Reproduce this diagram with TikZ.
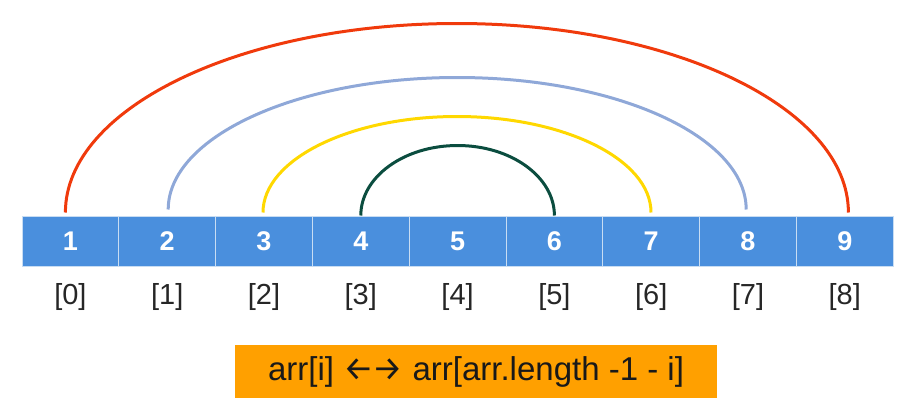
\documentclass[tikz,border=0pt]{standalone}
\usepackage{fontspec}
\setmainfont{Liberation Sans}
\newfontfamily\arrowfont{Fira Sans}
\definecolor{cellblue}{HTML}{4A8FDD}
\definecolor{celledge}{HTML}{C8DDF3}
\definecolor{arcred}{HTML}{F03A0C}
\definecolor{arcblue}{HTML}{8FA8D8}
\definecolor{arcyellow}{HTML}{FFD800}
\definecolor{arcgreen}{HTML}{0B4D3F}
\definecolor{boxorange}{HTML}{FFA000}
\tikzset{
  cell/.style={draw=celledge, line width=1pt, fill=cellblue, minimum width=96.8pt, minimum height=50pt, inner sep=0pt, text=white, font=\fontsize{27}{27}\selectfont\bfseries},
  idx/.style={inner sep=0pt, text=black!85, font=\fontsize{29}{29}\selectfont},
  arcline/.style={line width=3pt},
  formula/.style={fill=boxorange, minimum width=482pt, minimum height=53pt, inner sep=0pt, text=black!90, font=\fontsize{33}{33}\selectfont}
}
\begin{document}
\begin{tikzpicture}[x=1pt,y=-1pt]
\useasboundingbox (0,0) rectangle (911,405);
\foreach \i [count=\n] in {0,...,8} {
  \node[cell] (c\n) at ({22+96.8*\i+48.4},241) {\n};
  \node[idx] (i\n) at ({22+96.8*\i+48.4},297) {[\i]};
}
\draw[arcline, arcred] ([xshift=-5pt,yshift=3pt]c1.north) arc[start angle=180, end angle=0, x radius=391.5pt, y radius=189pt];
\draw[arcline, arcblue] ([xshift=1pt,yshift=6pt]c2.north) arc[start angle=180, end angle=0, x radius=289pt, y radius=132pt];
\draw[arcline, arcyellow] ([xshift=-1pt,yshift=3pt]c3.north) arc[start angle=180, end angle=0, x radius=194pt, y radius=96pt];
\draw[arcline, arcgreen] ([xshift=0pt,yshift=0pt]c4.north) arc[start angle=180, end angle=0, x radius=96.8pt, y radius=70pt];
\node[formula] (f) at (476,371.5) {arr[i] {\arrowfont\fontsize{34}{34}\selectfont ←\kern-1pt→} arr[arr.length -1 - i]};
\end{tikzpicture}
\end{document}
